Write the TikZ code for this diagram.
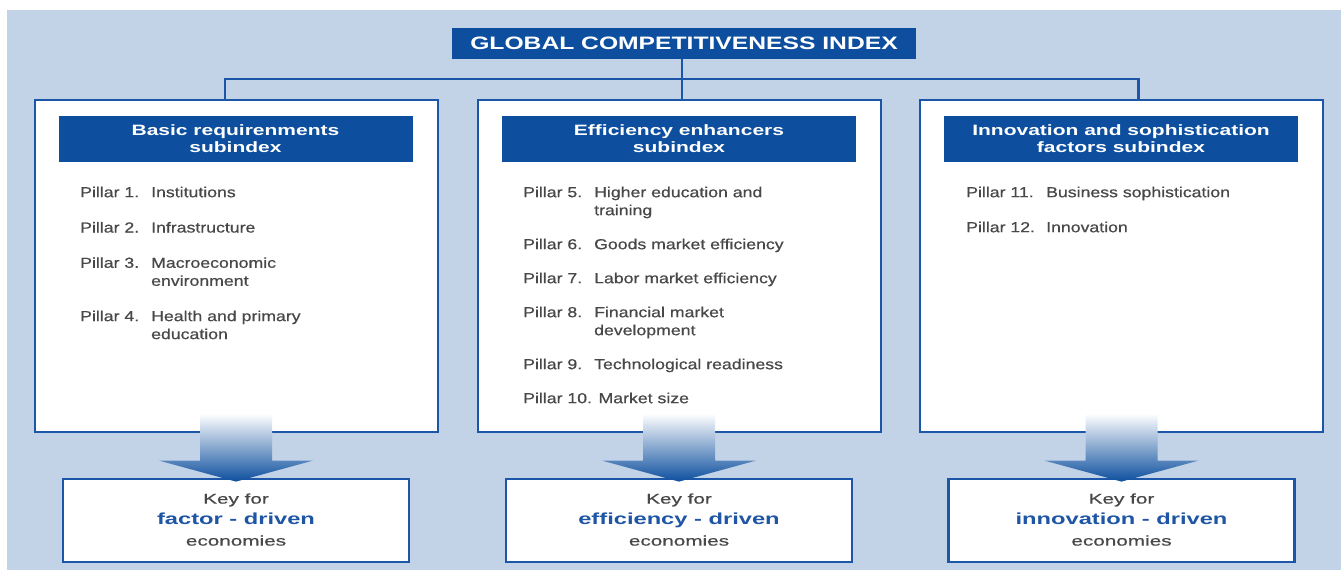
\documentclass[tikz,border=0pt]{standalone}
\usepackage{fontspec}
\setmainfont{Liberation Sans}
% wide sans faces used for the different text roles
\newfontfamily\titlefont[FakeStretch=1.37]{Liberation Sans}
\newfontfamily\hdfont[FakeStretch=1.40]{Liberation Sans}
\newfontfamily\lsfont[FakeStretch=1.22,FakeBold=0.6]{Liberation Sans}
\newfontfamily\kyfont[FakeStretch=1.48,FakeBold=0.5]{Liberation Sans}
\newfontfamily\kyboldfont[FakeStretch=1.48]{Liberation Sans Bold}
\usetikzlibrary{calc}

\definecolor{bgblue}{RGB}{194,211,232}
\definecolor{navy}{RGB}{13,79,158}
\definecolor{edge}{RGB}{28,86,168}
\definecolor{txtgray}{RGB}{72,72,72}
\definecolor{keyblue}{RGB}{30,85,165}

% downward block arrow ending on top of a key box
\newcommand\keyarrow[1]{%
  \shade[top color=white, bottom color=navy]
    ($(#1.north)+(-36,-64)$) -- ($(#1.north)+(36,-64)$) --
    ($(#1.north)+(36,-17)$) -- ($(#1.north)+(77,-17)$) --
    ($(#1.north)+(0,4)$) -- ($(#1.north)+(-77,-17)$) --
    ($(#1.north)+(-36,-17)$) -- cycle;}

\begin{document}
\begin{tikzpicture}[x=1pt,y=-1pt,
  titlebox/.style={fill=navy, text=white, minimum width=464pt, minimum height=31pt,
    inner sep=0pt, font=\titlefont\bfseries\fontsize{18}{20}\selectfont},
  panel/.style={draw=edge, line width=2.8pt, fill=white, minimum width=403pt,
    minimum height=332pt, inner sep=0pt},
  header/.style={fill=navy, text=white, minimum width=354pt, minimum height=46pt,
    inner sep=0pt, align=center, font=\hdfont\bfseries\fontsize{15}{17}\selectfont},
  pillars/.style={anchor=north west, inner sep=0pt, text=txtgray,
    font=\lsfont\fontsize{14.5}{18}\selectfont},
  keybox/.style={draw=edge, line width=2.8pt, fill=white, minimum width=346pt,
    minimum height=83pt, inner sep=0pt},
  keytxt/.style={anchor=base, inner sep=0pt, text=txtgray,
    font=\kyfont\fontsize{14}{16}\selectfont},
  keyhl/.style={anchor=base, inner sep=0pt, text=keyblue,
    font=\kyboldfont\fontsize{16}{18}\selectfont},
  link/.style={draw=edge, line width=2.6pt}]

\useasboundingbox (0,0) rectangle (1341,570);
\fill[bgblue] (7,10) rectangle (1341,570);

% index and subindex boxes
\node[titlebox] (gci) at (684,43.5) {GLOBAL COMPETITIVENESS INDEX};
\node[panel] (b1) at (236.5,266) {};
\node[panel] (b2) at (679.5,266) {};
\node[panel] (b3) at (1121.5,266) {};

% tree links from the index to the three subindexes
\coordinate (hub) at (682,79);
\coordinate (jl) at (225,79);
\coordinate (jr) at (1138.5,79);
\draw[link] (hub |- gci.south) -- (hub |- b2.north);
\draw[link] (jl |- b1.north) -- (jl) -- (jr) -- (jr |- b3.north);

\node[header] (h1) at (235.5,139) {Basic requirenments\\subindex};
\node[header] (h2) at (679,139) {Efficiency enhancers\\subindex};
\node[header] (h3) at (1121,139) {Innovation and sophistication\\factors subindex};

% pillar lists
\node[pillars] (l1) at (80,184.4) {\begin{tabular}{@{}p{71pt}@{}p{240pt}@{}}
Pillar 1. & Institutions\\[17.3pt]
Pillar 2. & Infrastructure\\[17.3pt]
Pillar 3. & Macroeconomic\newline environment\\[17.3pt]
Pillar 4. & Health and primary\newline education
\end{tabular}};
\node[pillars] (l2) at (523,184.4) {\begin{tabular}{@{}p{71pt}@{}p{240pt}@{}}
Pillar 5. & Higher education and\newline training\\[16pt]
Pillar 6. & Goods market efficiency\\[16pt]
Pillar 7. & Labor market efficiency\\[16pt]
Pillar 8. & Financial market\newline development\\[16pt]
Pillar 9. & Technological readiness\\[16pt]
\multicolumn{2}{@{}l@{}}{Pillar 10. Market size}
\end{tabular}};
\node[pillars] (l3) at (966,184.4) {\begin{tabular}{@{}p{80pt}@{}p{240pt}@{}}
Pillar 11. & Business sophistication\\[17pt]
Pillar 12. & Innovation
\end{tabular}};

% economy keys
\node[keybox] (k1) at (236,520.5) {};
\node[keybox] (k2) at (679,520.5) {};
\node[keybox] (k3) at (1121.5,520.5) {};

\keyarrow{k1}
\keyarrow{k2}
\keyarrow{k3}

\node[keytxt] (k1a) at ($(k1.north)+(0,26)$) {Key for};
\node[keyhl]  (k1b) at ($(k1.north)+(0,46.5)$) {factor - driven};
\node[keytxt] (k1c) at ($(k1.north)+(0,68)$) {economies};
\node[keytxt] (k2a) at ($(k2.north)+(0,26)$) {Key for};
\node[keyhl]  (k2b) at ($(k2.north)+(0,46.5)$) {efficiency - driven};
\node[keytxt] (k2c) at ($(k2.north)+(0,68)$) {economies};
\node[keytxt] (k3a) at ($(k3.north)+(0,26)$) {Key for};
\node[keyhl]  (k3b) at ($(k3.north)+(0,46.5)$) {innovation - driven};
\node[keytxt] (k3c) at ($(k3.north)+(0,68)$) {economies};

\end{tikzpicture}
\end{document}
